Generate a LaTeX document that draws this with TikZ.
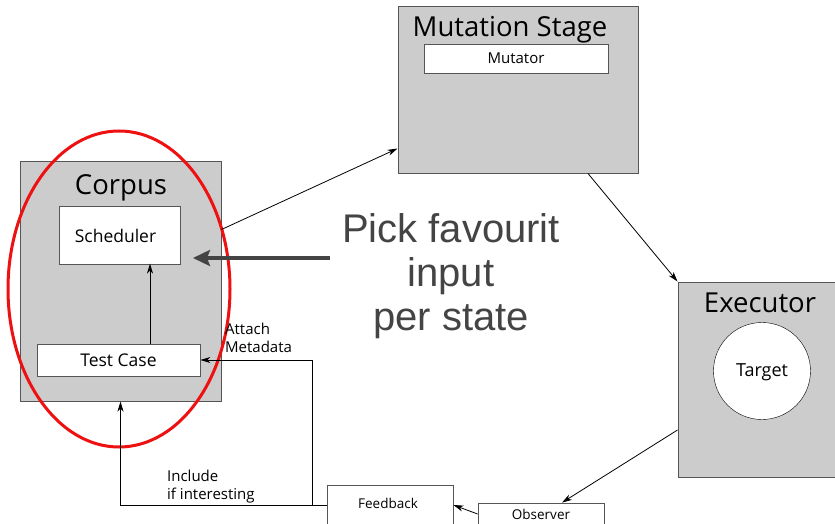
\documentclass[tikz,border=0pt]{standalone}
\usepackage{fontspec}
\setmainfont{Open Sans}
\newfontfamily\bigfont{Liberation Sans}
\usepackage{tikz}
\usetikzlibrary{arrows.meta, positioning, shapes.geometric, calc}
\definecolor{stagegray}{HTML}{CCCCCC}
\definecolor{edgegray}{HTML}{555555}
\definecolor{notegray}{HTML}{444444}
\definecolor{ringred}{HTML}{EE1111}

\begin{document}
\begin{tikzpicture}[
  x=1pt, y=-1pt,
  stage/.style={rectangle, draw=edgegray, fill=stagegray, line width=1pt, inner sep=0pt},
  part/.style={rectangle, draw=edgegray, fill=white, line width=0.8pt, inner sep=0pt, font=\fontsize{17.5}{20}\selectfont},
  title/.style={anchor=north, inner sep=0pt, font=\fontsize{27.5}{32}\selectfont},
  lbl/.style={anchor=north west, align=left, inner sep=0pt, font=\fontsize{15}{18}\selectfont},
  arrow/.style={-{Stealth[length=10pt, width=6pt, inset=3pt]}, line width=0.8pt},
]
  \useasboundingbox (0,0) rectangle (835,524);
  \clip (0,0) rectangle (835,524);

  % stages
  \node[stage, minimum width=201, minimum height=240] (corpus) at (120.5,281) {};
  \node[title] at (121,174) {Corpus};
  \node[part, minimum width=121, minimum height=58] (sched) at (119.5,235) {};
  \node[font=\fontsize{17.5}{20}\selectfont] at (115.5,236) {Scheduler};
  \node[part, minimum width=163, minimum height=32] (testcase) at (118.5,360) {Test Case};

  \node[stage, minimum width=240, minimum height=166] (mutation) at (518,90) {};
  \node[title] at (510,16) {Mutation Stage};
  \node[part, minimum width=184, minimum height=29, font=\fontsize{15}{17}\selectfont] (mutator) at (516,58.5) {Mutator};

  \node[stage, minimum width=180, minimum height=195] (executor) at (768,379.5) {};
  \node[title] at (760,293) {Executor};
  \node[circle, draw=black, fill=white, minimum size=97, inner sep=0pt, font=\fontsize{18}{20}\selectfont] (target) at (762,371) {};
  \node[font=\fontsize{18}{20}\selectfont] at (762,372) {Target};

  \node[part, minimum width=126, minimum height=22, font=\fontsize{13.5}{15}\selectfont] (observer) at (541,514) {Observer};
  \node[part, minimum width=126, minimum height=40] (feedback) at (390,505) {};
  \node[font=\fontsize{13.5}{15}\selectfont] at (388,503) {Feedback};

  % highlight
  \node[ellipse, draw=ringred, line width=3pt, minimum width=222, minimum height=316] (focus) at (119,289) {};
  \node[align=center, text=notegray, font=\bigfont\fontsize{40}{44}\selectfont] (note) at (451,276) {Pick favourit\\input\\per state};

  % flow
  \draw[arrow] ($(corpus.north east)+(0,69)$) -- ($(mutation.south west)+(0,-25)$);
  \draw[arrow] ($(mutation.south)+(70,0)$) -- (executor.north west);
  \draw[arrow] ($(executor.west)+(0,50.5)$) -- ($(observer.north)+(21,0)$);
  \draw[arrow] (observer.west) -- (feedback.east);
  \draw[arrow] (feedback.west) -| (corpus.south);
  \coordinate (split) at ($(feedback.west)+(-14,0)$);
  \draw[arrow] (split) |- (testcase.east);
  \draw[arrow] ($(testcase.north)+(31.5,0)$) -- ($(testcase.north)+(31.5,-80)$);
  \draw[-{Stealth[length=17pt, width=16pt, inset=3pt]}, line width=4pt, notegray] (330,258) -- (193,258);

  \node[lbl] at (225,323) {Attach\\Metadata};
  \node[lbl] at (167,470) {Include\\if interesting};
\end{tikzpicture}
\end{document}
